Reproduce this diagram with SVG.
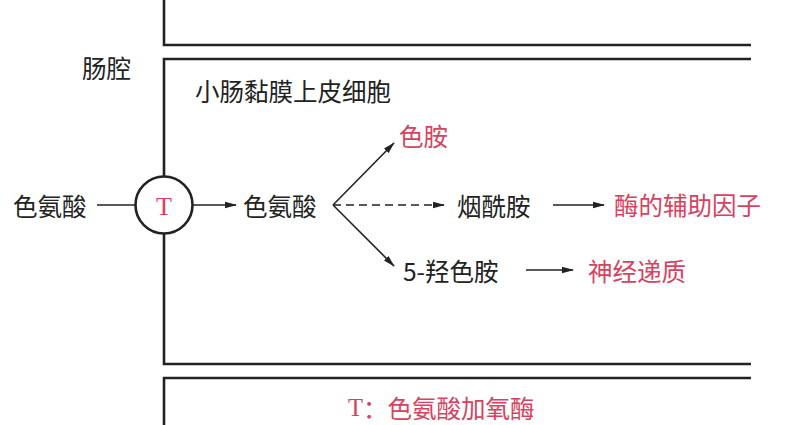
<svg xmlns="http://www.w3.org/2000/svg" width="786" height="425" viewBox="0 0 786 425">
<defs>
<marker id="ah" markerWidth="12" markerHeight="8" refX="11" refY="4" orient="auto" markerUnits="userSpaceOnUse">
<path d="M0,0.8 L12,4 L0,7.2 Z" fill="#222"/>
</marker>
<style>
.wall{fill:none;stroke:#222;stroke-width:2.6}
.t{font-family:"Noto Sans CJK SC","Noto Sans",sans-serif;font-size:24.5px;fill:#222;dominant-baseline:central}
.r{fill:#d8425e}
.c{fill:none;stroke:#222;stroke-width:1.6}
</style>
</defs>
<rect width="786" height="425" fill="#fff"/>
<g id="walls">
<path class="wall" d="M164,0 V45 H751"/>
<path class="wall" d="M751,59 H164 V176"/>
<path class="wall" d="M164,234 V364 H751"/>
<path class="wall" d="M164,425 V378 H751"/>
</g>
<g id="lumen"><text class="t" x="82" y="67">肠腔</text></g>
<g id="cell"><text class="t" x="195" y="90">小肠黏膜上皮细胞</text></g>
<g id="trp-out"><text class="t" x="13" y="205">色氨酸</text></g>
<g id="T">
<circle cx="164" cy="205" r="28.5" fill="#fff" stroke="#222" stroke-width="2.6"/>
<text x="164" y="206" text-anchor="middle" dominant-baseline="central" font-family="Liberation Serif,serif" font-size="26" fill="#d8425e">T</text>
</g>
<g id="trp-in"><text class="t" x="243" y="205">色氨酸</text></g>
<g id="tryptamine"><text class="t r" x="399" y="135">色胺</text></g>
<g id="nicotinamide"><text class="t" x="457" y="205">烟酰胺</text></g>
<g id="cofactor"><text class="t r" x="614" y="204">酶的辅助因子</text></g>
<g id="serotonin"><text class="t" x="403" y="270">5-羟色胺</text></g>
<g id="neuro"><text class="t r" x="588" y="270">神经递质</text></g>
<g id="legend"><text class="t r" x="348" y="407"><tspan font-family="Liberation Serif,serif">T</tspan>：色氨酸加氧酶</text></g>
<g id="connectors">
<line class="c" x1="97" y1="205" x2="135" y2="205" stroke-width="2.2"/>
<line class="c" x1="193" y1="205" x2="236" y2="205" marker-end="url(#ah)"/>
<line class="c" x1="333" y1="205" x2="394" y2="143" marker-end="url(#ah)"/>
<line class="c" x1="333" y1="205" x2="444" y2="205" stroke-dasharray="8,5" stroke-width="1.8" marker-end="url(#ah)"/>
<line class="c" x1="333" y1="205" x2="394" y2="266" marker-end="url(#ah)"/>
<line class="c" x1="553" y1="205" x2="604" y2="205" marker-end="url(#ah)"/>
<line class="c" x1="526" y1="270" x2="573" y2="270" marker-end="url(#ah)"/>
</g>
</svg>
